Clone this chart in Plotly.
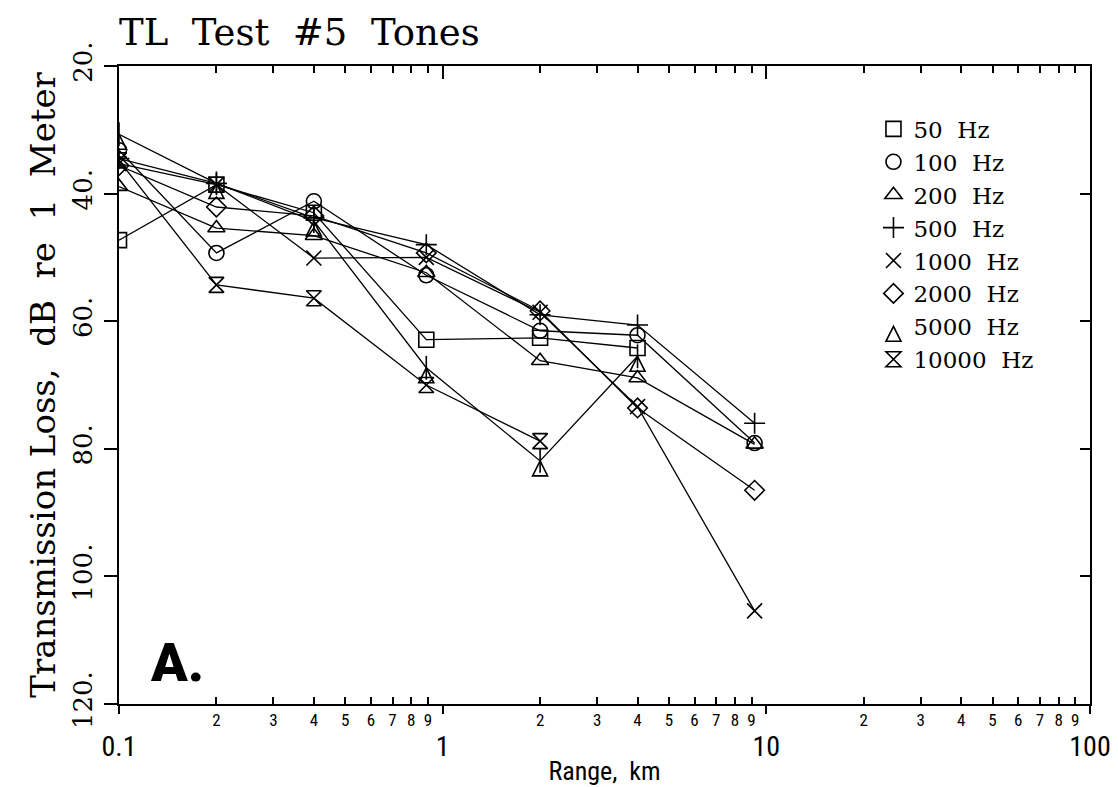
import plotly.graph_objects as go

# range in km (x) and transmission loss in dB re 1 m for each tone
range_km = [0.1, 0.2, 0.4, 0.89, 2.0, 4.0, 9.2]

tl_50 = [47.3, 38.6, 43.0, 62.9, 62.6, 64.2, None]
tl_100 = [33.2, 49.3, 41.2, 52.8, 61.5, 62.2, 79.1]
tl_200 = [38.9, 45.4, 46.6, 52.4, 66.2, 68.9, 79.3]
tl_500 = [34.5, 38.4, 43.8, 48.0, 59.0, 60.6, 76.0]
tl_1000 = [35.3, 38.6, 50.1, 50.0, 58.6, 73.4, 105.4]
tl_2000 = [35.6, 42.1, 43.5, 49.3, 58.4, 73.6, 86.5]
tl_5000 = [30.7, 38.4, 44.3, 67.3, 81.9, 65.5, None]
tl_10000 = [34.8, 54.3, 56.4, 70.0, 78.8, None, None]

tones = ["50", "100", "200", "500", "1000", "2000", "5000", "10000"]
series = [tl_50, tl_100, tl_200, tl_500, tl_1000, tl_2000, tl_5000, tl_10000]
symbols = ["square-open", "circle-open", "triangle-up-open", "cross-thin-open",
           "x-thin-open", "diamond-open", "arrow-up-open", "hourglass-open"]

y_ticks = [20, 40, 60, 80, 100, 120]
y_labels = ["20.", "40.", "60.", "80.", "100.", "120."]
major_x = [0.1, 1, 10, 100]
major_lbl = ["0.1", "1", "10", "100"]
minor_x = [m * d for d in (0.1, 1, 10) for m in range(2, 10)]
minor_lbl = [str(m) for d in (0.1, 1, 10) for m in range(2, 10)]

SERIF = "DejaVu Serif"
COND = "Liberation Sans Narrow, Roboto Condensed, DejaVu Sans Condensed, Liberation Sans"
SP = "\u00a0\u00a0"

fig = go.Figure()
for name, vals, sym in zip(tones, series, symbols):
    fig.add_trace(go.Scatter(
        x=range_km, y=vals, mode="lines+markers", showlegend=False,
        line=dict(color="black", width=1.3),
        marker=dict(symbol=sym, size=15, color="black",
                    line=dict(color="black", width=1.6)),
    ))
    if name == "5000":
        # vertical stem through the 5000 Hz arrow head
        fig.add_trace(go.Scatter(
            x=range_km, y=vals, mode="markers", showlegend=False, hoverinfo="skip",
            marker=dict(symbol="line-ns-open", size=17, color="black",
                        line=dict(color="black", width=1.6)),
        ))
    # legend entry with marker only
    fig.add_trace(go.Scatter(
        x=[None], y=[None], mode="markers", name=name + SP + "Hz",
        marker=dict(symbol=sym, size=15, color="black",
                    line=dict(color="black", width=1.6)),
    ))

# empty traces so the extra tick axes get drawn
for xa, ya in (("x2", "y"), ("x3", "y"), ("x", "y2")):
    fig.add_trace(go.Scatter(x=[None], y=[None], xaxis=xa, yaxis=ya,
                             showlegend=False, hoverinfo="skip"))

fig.update_layout(
    width=1118, height=787,
    margin=dict(l=111, r=36, t=58, b=91, autoexpand=False),
    plot_bgcolor="white", paper_bgcolor="white",
    font=dict(family=SERIF, color="black"),
    title=dict(text="TL" + SP + "Test" + SP + "#5" + SP + "Tones",
               x=111 / 1118, xanchor="left", y=1 - 24 / 787, yanchor="middle",
               font=dict(size=37, family=SERIF)),
    legend=dict(x=0.777, y=0.935, xanchor="left", yanchor="top",
                font=dict(size=23, family=SERIF), bgcolor="rgba(0,0,0,0)",
                itemwidth=30, tracegroupgap=0),
    xaxis=dict(type="log", range=[-1, 2], tickvals=minor_x, ticktext=minor_lbl,
               ticks="inside", ticklen=7, tickwidth=1.5, tickcolor="black",
               tickangle=0, tickfont=dict(size=17, family=COND),
               showline=True, linewidth=2, linecolor="black", mirror="ticks",
               showgrid=False, zeroline=False, automargin=False),
    xaxis2=dict(type="log", range=[-1, 2], overlaying="x", anchor="y", side="bottom",
                tickvals=major_x, ticktext=major_lbl, ticks="outside", ticklen=9,
                tickwidth=1.5, tickcolor="black", tickangle=0,
                tickfont=dict(size=28, family=COND), ticklabelstandoff=8,
                showgrid=False, zeroline=False, showline=False, automargin=False,
                title=dict(text="Range," + SP + "km", font=dict(size=26, family=COND),
                           standoff=0)),
    xaxis3=dict(type="log", range=[-1, 2], overlaying="x", anchor="y", side="top",
                tickvals=major_x, ticks="inside", ticklen=13, tickwidth=1.5,
                tickcolor="black", showticklabels=False, showgrid=False,
                zeroline=False, showline=False, automargin=False),
    yaxis=dict(range=[120, 20], tickvals=y_ticks, ticktext=y_labels, tickangle=-90,
               ticks="outside", ticklen=13, tickwidth=1.5, tickcolor="black",
               tickfont=dict(size=26, family=SERIF), ticklabelstandoff=2,
               showline=True, linewidth=2, linecolor="black", mirror=True,
               showgrid=False, zeroline=False, automargin=False,
               title=dict(text="Transmission" + "\u00a0" + "Loss," + SP + "dB" + SP
                          + "re" + SP + "1" + SP + "Meter",
                          font=dict(size=34, family=SERIF), standoff=2)),
    yaxis2=dict(range=[120, 20], overlaying="y", anchor="x", side="right",
                tickvals=y_ticks, ticks="inside", ticklen=10, tickwidth=1.5,
                tickcolor="black", showticklabels=False, showgrid=False,
                zeroline=False, showline=False, automargin=False),
    annotations=[dict(text="A.", xref="paper", yref="paper", x=0.03, y=0.065,
                      xanchor="left", yanchor="middle", showarrow=False,
                      font=dict(size=54, family="Roboto", weight=900, color="black"))],
)

fig.write_html("out.html")
